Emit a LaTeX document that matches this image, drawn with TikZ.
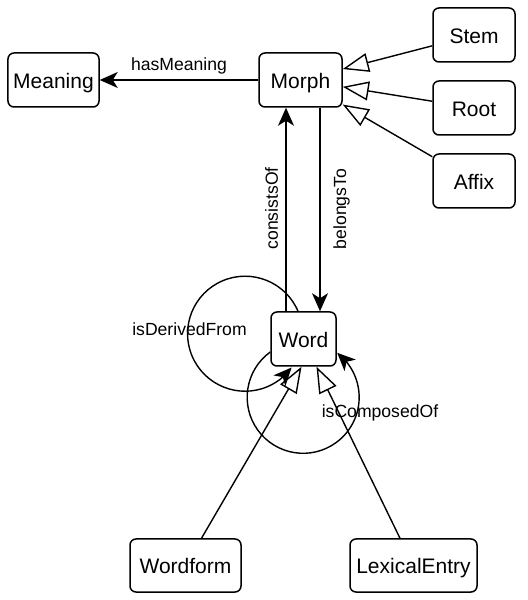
\documentclass[tikz,border=0pt]{standalone}
\usepackage{fontspec}
\setmainfont{Liberation Sans}
\usetikzlibrary{arrows.meta,bending}
\begin{document}
\begin{tikzpicture}[x=1bp,y=1bp,
  box/.style={draw, line width=1.5bp, rounded corners=6bp, fill=white, inner sep=0pt, align=center,
    minimum height=54bp, text height=16.8bp, text depth=0bp, font=\fontsize{21bp}{25bp}\selectfont},
  lbl/.style={inner sep=0pt, font=\fontsize{17.6bp}{21bp}\selectfont},
  arr/.style={line width=1.4bp, -{Stealth[length=18bp,width=16bp,inset=5bp]}},
  inh/.style={line width=1.4bp, -{Triangle[length=26bp,width=19bp,fill=white]}},
]
\useasboundingbox (0,0) rectangle (528,600);
% nodes
\node[box, minimum width=91bp] (meaning) at (53.5,520) {Meaning};
\node[box, minimum width=83bp] (morph) at (300.5,520) {Morph};
\node[box, minimum width=82bp] (stem) at (474,565) {Stem};
\node[box, minimum width=82bp] (root) at (474,492) {Root};
\node[box, minimum width=82bp] (affix) at (474,419) {Affix};
\node[box, minimum width=65bp] (word) at (303.5,261) {Word};
\node[box, minimum width=111bp, minimum height=53bp] (wordform) at (185.5,34.5) {Wordform};
\node[box, minimum width=127bp, minimum height=53bp] (lexical) at (413.5,34.5) {LexicalEntry};
% edges
\draw[arr] (morph) -- (meaning);
\draw[arr] ([xshift=-17.5bp]word.north) -- ([xshift=-17.5bp]word.north |- morph.south);
\draw[arr] ([xshift=19.5bp]morph.south) -- ([xshift=19.5bp]morph.south |- word.north);
\draw[inh] (stem) -- (morph);
\draw[inh] (root) -- (morph);
\draw[inh] (affix) -- (morph);
\draw[inh] ([xshift=16bp]wordform.north) -- ([xshift=-2bp]word.south);
\draw[inh] ([xshift=-13.5bp]lexical.north) -- ([xshift=13bp]word.south);
\draw[arr] ([xshift=-5.5bp]word.north) arc[start angle=23, end angle=324, radius=57.5bp];
\draw[arr] ([yshift=-13bp]word.west) arc[start angle=126, end angle=412.6, radius=56bp];
% labels
\node[lbl] (lhas) at (179,534) {hasMeaning};
\node[lbl, rotate=90] (lcons) at (271.5,391.5) {consistsOf};
\node[lbl, rotate=90] (lbel) at (341.5,391) {belongsTo};
\node[lbl] (lder) at (189.5,270.5) {isDerivedFrom};
\node[lbl] (lcomp) at (380,187) {isComposedOf};
\end{tikzpicture}
\end{document}
